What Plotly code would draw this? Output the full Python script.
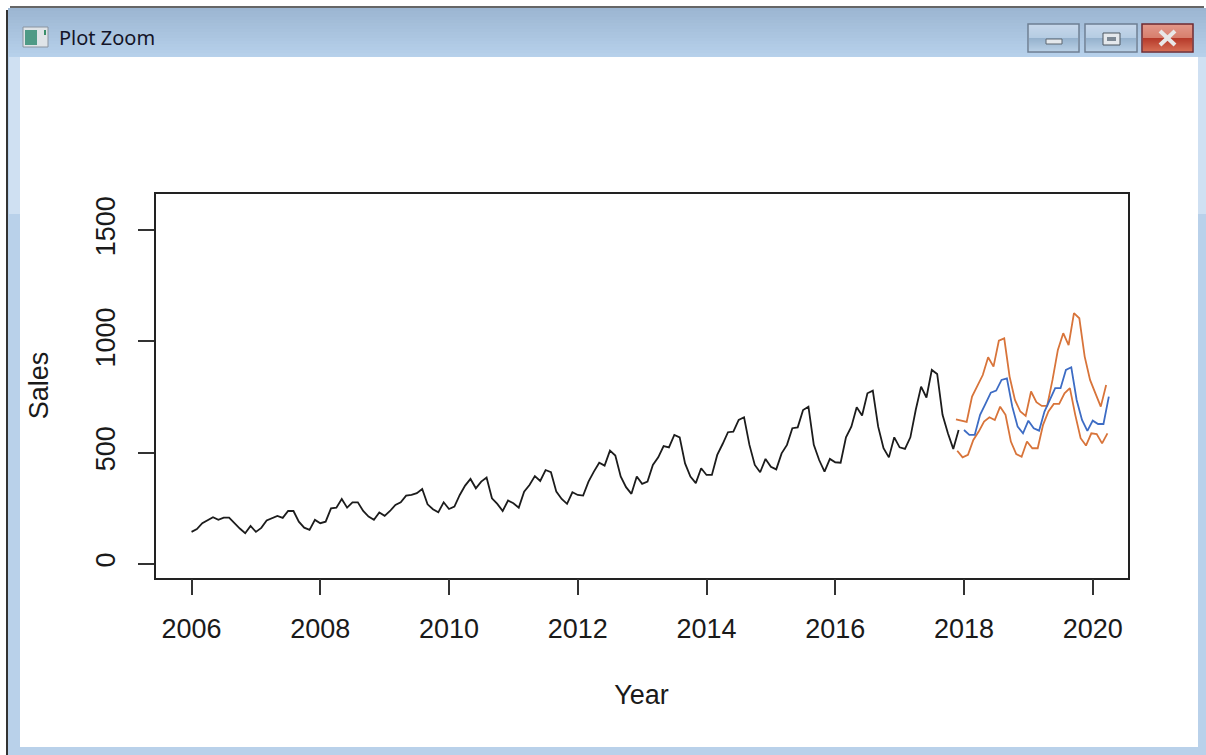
import numpy as np
import plotly.graph_objects as go

W, H = 1206, 755
tick_years = [2006, 2008, 2010, 2012, 2014, 2016, 2018, 2020]
tick_sales = [0, 500, 1000, 1500]

sales = [144,157,183,198,210,198,208,208,183,159,138,171,
         144,162,195,207,216,207,238,238,190,163,153,198,
         183,190,250,253,292,253,277,277,238,213,198,231,
         216,238,265,277,307,310,318,337,268,246,232,277,
         247,258,310,352,382,340,370,388,295,270,238,285,
         273,253,325,355,395,373,422,412,325,292,270,322,
         310,307,370,415,455,442,509,487,393,345,315,393,
         360,370,445,479,530,524,580,569,452,393,363,430,
         400,400,490,539,592,595,647,659,535,445,412,472,
         437,425,497,535,610,614,692,707,535,467,415,472,
         457,455,569,617,704,667,767,779,617,520,479,569,
         524,517,569,692,797,748,872,854,670,587,517,602]
forecast = [602,580,580,670,719,770,779,827,834,707,617,587,
            644,610,599,685,737,790,790,872,884,737,647,598,
            644,629,629,752]
upper = [650,643,638,752,797,849,929,887,1004,1014,842,737,685,665,775,
         727,710,710,827,962,1037,984,1127,1104,932,827,767,707,804]
lower = [509,479,490,557,595,640,659,647,707,670,550,494,482,550,520,
         520,625,685,719,719,767,790,670,565,532,587,584,542,587]

t_sales = 2006 + np.arange(len(sales)) / 12
t_fc = 2018 + np.arange(len(forecast)) / 12
t_up = 2017.875 + np.arange(len(upper)) / 12
t_lo = 2017.895 + np.arange(len(lower)) / 12

fig = go.Figure()
fig.add_trace(go.Scatter(x=t_sales, y=sales, mode="lines", line=dict(color="#1c1c1c", width=1.8), name="Sales"))
fig.add_trace(go.Scatter(x=t_up, y=upper, mode="lines", line=dict(color="#d8743a", width=1.8), name="Upper"))
fig.add_trace(go.Scatter(x=t_lo, y=lower, mode="lines", line=dict(color="#d8743a", width=1.8), name="Lower"))
fig.add_trace(go.Scatter(x=t_fc, y=forecast, mode="lines", line=dict(color="#3d6cc4", width=1.8), name="Forecast"))


def px(x):
    return x / W


def py(y):
    return 1 - y / H


shapes = []


def rect(x0, y0, x1, y1, fill, line=None, lw=0):
    shapes.append(dict(type="rect", xref="paper", yref="paper", layer="below",
                       x0=px(x0), x1=px(x1), y0=py(y0), y1=py(y1), fillcolor=fill,
                       line=dict(color=line or fill, width=lw)))


def seg(x0, y0, x1, y1, color, lw):
    shapes.append(dict(type="line", xref="paper", yref="paper", layer="below",
                       x0=px(x0), x1=px(x1), y0=py(y0), y1=py(y1),
                       line=dict(color=color, width=lw)))


def lerp(c0, c1, f):
    r = [round(a + (b - a) * f) for a, b in zip(c0, c1)]
    return f"rgb({r[0]},{r[1]},{r[2]})"


# window frame
rect(8, 8, W, H, "#b9d1ea")
for k in range(8, 57, 3):
    f = (k - 8) / 49
    rect(8, k, W, k + 3, lerp((156, 182, 210), (184, 210, 236), f))
rect(9, 57, 20, 214, "#cfe0f2")
rect(1198, 57, W, 214, "#cfe0f2")
rect(20, 57, 1198, 747, "#ffffff")
seg(7, 10, 7, H, "#333333", 2)
seg(10, 7, 1204, 7, "#333333", 1.5)

# title icon
rect(23, 27, 48, 47, "#dfe4e8", "#8a94a0", 1)
rect(25, 30, 37, 45, "#4f9a86")
rect(44, 30, 46, 35, "#3a8f6a")

# window buttons
for x0, x1, c_top, c_mid, c_low, c_bot, edge in [
    (1028, 1079, (198, 215, 234), (180, 203, 226), (150, 178, 205), (185, 208, 230), "#6d7f93"),
    (1085, 1137, (198, 215, 234), (180, 203, 226), (150, 178, 205), (185, 208, 230), "#6d7f93"),
    (1142, 1193, (226, 150, 135), (214, 125, 108), (182, 58, 42), (214, 110, 85), "#6e2a30"),
]:
    rect(x0, 24, x1, 52, lerp(c_top, c_top, 0), edge, 1.5)
    for k in range(25, 38):
        rect(x0 + 1, k, x1 - 1, k + 1, lerp(c_top, c_mid, (k - 25) / 13))
    for k in range(38, 51):
        rect(x0 + 1, k, x1 - 1, k + 1, lerp(c_low, c_bot, (k - 38) / 13))
rect(1046, 39, 1062, 44, "#e4e8ec", "#5d6670", 1)
rect(1103, 33, 1120, 45, "#e4e8ec", "#4d5660", 1)
rect(1107, 37, 1116, 41, "#7c8894", "#5d6670", 0)
seg(1160, 31, 1175, 45, "#e8e8e8", 4)
seg(1175, 31, 1160, 45, "#e8e8e8", 4)

axis_font = dict(family="Liberation Sans, Arial, sans-serif", size=27, color="#1a1a1a")
axis_common = dict(showgrid=False, zeroline=False, showline=True, mirror=True, linecolor="#222222", linewidth=1.5,
                   ticks="outside", ticklen=16, tickwidth=1.5, tickcolor="#333333", tickfont=axis_font)

fig.update_layout(
    width=W, height=H, margin=dict(l=0, r=0, t=0, b=0, autoexpand=False), showlegend=False,
    paper_bgcolor="#ffffff", plot_bgcolor="rgba(0,0,0,0)", shapes=shapes,
    xaxis=dict(domain=[155.5 / W, 1127.5 / W], range=[2005.44, 2020.54], tickmode="array", tickvals=tick_years,
               ticktext=[str(v) for v in tick_years], title=dict(text="Year", font=axis_font, standoff=42),
               ticklabelstandoff=10, automargin=False, **axis_common),
    yaxis=dict(domain=[1 - 577.5 / H, 1 - 193.5 / H], range=[-61, 1665], tickmode="array", tickvals=tick_sales,
               ticktext=[str(v) for v in tick_sales], tickangle=-90, title=dict(text="Sales", font=axis_font, standoff=35),
               ticklabelstandoff=12, automargin=False, **axis_common),
    annotations=[dict(text="Plot Zoom", xref="paper", yref="paper", x=px(57), y=py(38), xanchor="left", yanchor="middle",
                      showarrow=False, font=dict(family="Noto Sans", size=20, color="#141428"))],
)

fig.write_html("out.html", post_script="document.body.style.margin='0';document.body.style.overflow='hidden';",
               config={"displayModeBar": False})
